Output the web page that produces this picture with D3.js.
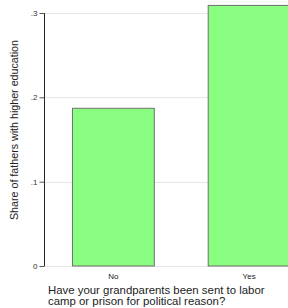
<!DOCTYPE html>
<html>
<head>
<meta charset="utf-8">
<script src="https://cdn.jsdelivr.net/npm/d3@7"></script>
<style>
  body { margin: 0; background: #fff; }
  text { font-family: "Liberation Sans", Arial, sans-serif; }
</style>
</head>
<body>
<svg id="chart" width="288" height="308"></svg>
<script>
var categories = ["No", "Yes"]
var shares = [0.187, 0.309]
var tickValues = [0, 0.1, 0.2, 0.3]
var tickLabels = ["0", ".1", ".2", ".3"]

var svg = d3.select("#chart")

var axisX = 44.5
var y = d3.scaleLinear().domain([0, 0.3]).range([266, 13])
var x = d3.scaleBand().domain(categories)
          .range([axisX, 318]).paddingInner(0.397).paddingOuter(0.206)

// dotted gridlines
svg.selectAll(".grid").data(tickValues).enter().append("line")
   .attr("x1", axisX).attr("x2", 288)
   .attr("y1", function(d) { return Math.round(y(d)) + 0.5 })
   .attr("y2", function(d) { return Math.round(y(d)) + 0.5 })
   .attr("stroke", "#ccc").attr("stroke-width", 1)
   .attr("stroke-dasharray", "1,1")

// bars
svg.selectAll(".bar").data(shares).enter().append("rect")
   .attr("x", function(d, i) { return x(categories[i]) })
   .attr("y", function(d) { return y(d) })
   .attr("width", x.bandwidth())
   .attr("height", function(d) { return y(0) - y(d) })
   .attr("fill", "#88fd80")
   .attr("stroke", "#707070").attr("stroke-width", 1)

// y axis
var yAxis = d3.axisLeft(y).tickValues(tickValues).tickSize(5).tickPadding(2)
              .tickFormat(function(d, i) { return tickLabels[i] })
var gy = svg.append("g").attr("transform", "translate(" + axisX + ",0)").call(yAxis)
gy.select(".domain").attr("stroke", "#222").attr("d", "M0," + y(0.3) + "V" + y(0))
gy.selectAll(".tick line").attr("stroke", "#555")
gy.selectAll(".tick text").attr("font-size", 8).attr("fill", "#333")
  .attr("font-family", "Liberation Sans, Arial, sans-serif")

// x category labels
svg.selectAll(".cat").data(categories).enter().append("text")
   .attr("x", function(d) { return x(d) + x.bandwidth() / 2 })
   .attr("y", 279)
   .attr("text-anchor", "middle")
   .attr("font-size", 8).attr("fill", "#222")
   .text(function(d) { return d })

// axis titles
svg.append("text")
   .attr("transform", "translate(17.5,130) rotate(-90)")
   .attr("text-anchor", "middle")
   .attr("font-size", 10.7).attr("fill", "#222")
   .text("Share of fathers with higher education")

var xt = svg.append("text").attr("x", 48).attr("font-size", 11.4).attr("fill", "#222")
xt.append("tspan").attr("x", 48).attr("y", 294).text("Have your grandparents been sent to labor")
xt.append("tspan").attr("x", 48).attr("y", 305).text("camp or prison for political reason?")
</script>
</body>
</html>
